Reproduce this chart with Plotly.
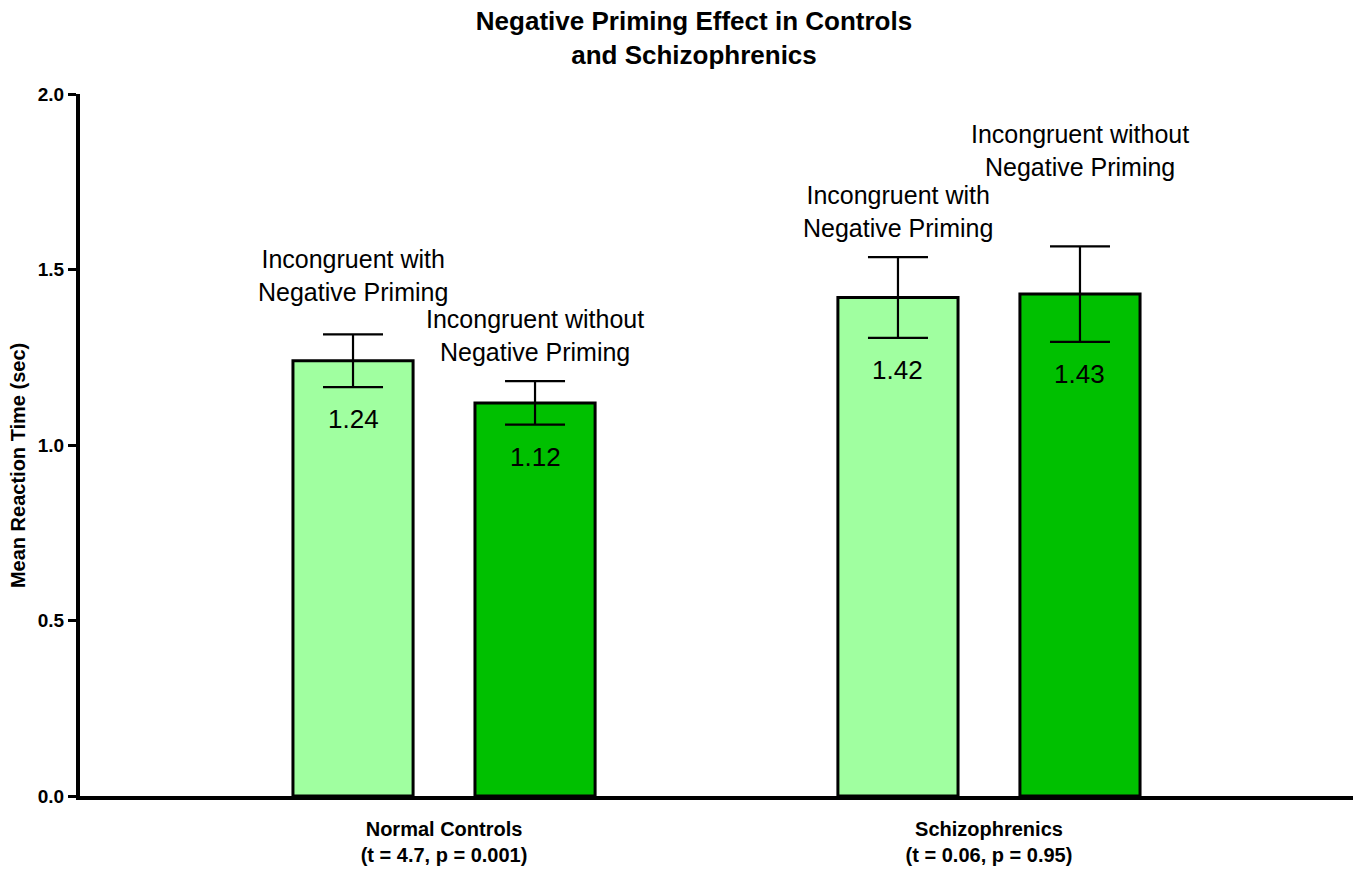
import plotly.graph_objects as go

# ---- data ----
groups = ["Normal Controls<br>(t = 4.7, p = 0.001)", "Schizophrenics<br>(t = 0.06, p = 0.95)"]
series_names = ["Incongruent with<br>Negative Priming", "Incongruent without<br>Negative Priming"]
with_np = [1.24, 1.42]
with_np_err = [0.075, 0.115]
without_np = [1.12, 1.43]
without_np_err = [0.062, 0.136]
value_labels_with = ["1.24", "1.42"]
value_labels_without = ["1.12", "1.43"]

# label anchor heights (layout positions for the series-name captions)
caption_y_with = [1.483, 1.664]
caption_y_without = [1.311, 1.838]

FONT = "Arial, Liberation Sans, sans-serif"
LIGHT = "#A0FFA0"
DARK = "#00C000"

fig = go.Figure()
fig.add_trace(go.Bar(
    x=groups, y=with_np, name="Incongruent with Negative Priming",
    marker=dict(color=LIGHT, line=dict(color="black", width=3)),
    error_y=dict(type="data", array=with_np_err, visible=True, color="black", thickness=2.2, width=30),
))
fig.add_trace(go.Bar(
    x=groups, y=without_np, name="Incongruent without Negative Priming",
    marker=dict(color=DARK, line=dict(color="black", width=3)),
    error_y=dict(type="data", array=without_np_err, visible=True, color="black", thickness=2.2, width=30),
))

OFF = 91  # px offset of each bar from its group centre
ann = []
for i, g in enumerate(groups):
    ann.append(dict(x=g, y=with_np[i] - with_np_err[i], xref="x", yref="y", text=value_labels_with[i],
                    showarrow=False, xshift=-OFF, yshift=-32, yanchor="middle",
                    font=dict(family=FONT, size=26, color="black")))
    ann.append(dict(x=g, y=without_np[i] - without_np_err[i], xref="x", yref="y", text=value_labels_without[i],
                    showarrow=False, xshift=OFF, yshift=-32, yanchor="middle",
                    font=dict(family=FONT, size=26, color="black")))
    ann.append(dict(x=g, y=caption_y_with[i], xref="x", yref="y", text=series_names[0],
                    showarrow=False, xshift=-OFF, yanchor="middle",
                    font=dict(family=FONT, size=25, color="black")))
    ann.append(dict(x=g, y=caption_y_without[i], xref="x", yref="y", text=series_names[1],
                    showarrow=False, xshift=OFF, yanchor="middle",
                    font=dict(family=FONT, size=25, color="black")))

# y-axis title as a rotated annotation
ann.append(dict(x=-0.0487, y=0.47, xref="paper", yref="paper", text="<b>Mean Reaction Time (sec)</b>",
                showarrow=False, textangle=-90, xanchor="center", yanchor="middle",
                font=dict(family=FONT, size=20, color="black")))

fig.update_layout(
    width=1360, height=873,
    margin=dict(l=80, r=7, t=94, b=68),
    paper_bgcolor="white", plot_bgcolor="white",
    barmode="group", bargap=0.332, bargroupgap=0.34,
    showlegend=False,
    title=dict(text="<b>Negative Priming Effect in Controls<br>and Schizophrenics</b>",
               x=694/1360, xanchor="center", xref="container",
               y=1 - 30/873, yanchor="top", yref="container",
               font=dict(family=FONT, size=26, color="black")),
    annotations=ann,
    font=dict(family=FONT, color="black"),
)
fig.update_xaxes(
    type="category", range=[-0.668, 1.668],
    showline=True, linecolor="black", linewidth=4,
    ticks="outside", ticklen=12, tickcolor="rgba(0,0,0,0)",
    tickfont=dict(family=FONT, size=20, color="black", weight="bold"),
    showgrid=False, zeroline=False,
)
fig.update_yaxes(
    range=[0, 2.0], tickvals=[0, 0.5, 1.0, 1.5, 2.0], ticktext=["0.0", "0.5", "1.0", "1.5", "2.0"],
    showline=True, linecolor="black", linewidth=4,
    ticks="outside", ticklen=8, tickwidth=3, tickcolor="black",
    tickfont=dict(family=FONT, size=19, color="black", weight="bold"),
    showgrid=False, zeroline=False,
)
fig.write_html("out.html")
